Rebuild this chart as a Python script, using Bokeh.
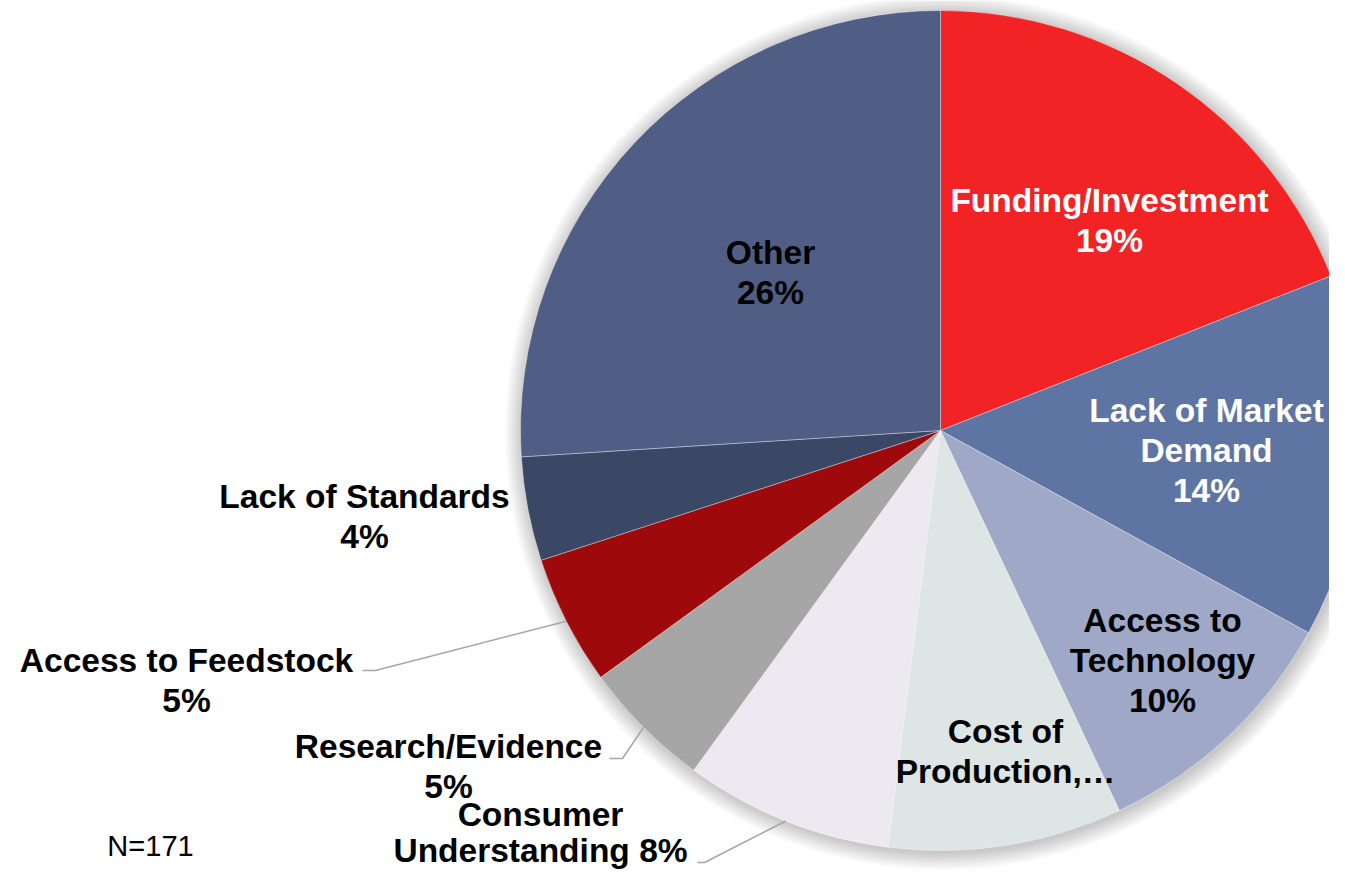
import math
from bokeh.plotting import figure
from bokeh.models import Range1d, ColumnDataSource
from bokeh.core.properties import value
from bokeh.embed import file_html
from bokeh.resources import INLINE

# ---- data ----
categories = ["Funding/Investment", "Lack of Market Demand", "Access to Technology",
              "Cost of Production,…", "Consumer Understanding", "Research/Evidence",
              "Access to Feedstock", "Lack of Standards", "Other"]
shares = [19, 14, 10, 9, 8, 5, 5, 4, 26]
pct_labels = ["19%", "14%", "10%", "", "8%", "5%", "5%", "4%", "26%"]
colors = ["#F22325", "#5E75A4", "#9FA8C7", "#DDE5E5", "#ECEAF0",
          "#A6A6A6", "#9E0A0B", "#3A4866", "#505E86"]
note = "N=171"

# ---- layout: data x = picture x, data y = -picture y ----
W, HT = 1329, 871
cx, cy, R = 940, -430, 420
FONT = value("Liberation Sans")
FS = "33.5px"

p = figure(width=W, height=HT, output_backend="svg", toolbar_location=None,
           x_range=Range1d(0, W), y_range=Range1d(-HT, 0),
           min_border=0, outline_line_color=None)
p.axis.visible = False
p.grid.visible = False
p.background_fill_color = "white"
p.border_fill_color = "white"

# soft shadow around the pie
for k in range(18, 0, -1):
    p.circle(x=[cx + 2], y=[cy - 2], radius=R + k, fill_color="black",
             fill_alpha=0.011, line_color=None)

total = sum(shares)
cum = [0]
for s in shares:
    cum.append(cum[-1] + s)
starts = [math.pi / 2 - 2 * math.pi * cum[i + 1] / total for i in range(len(shares))]
ends = [math.pi / 2 - 2 * math.pi * cum[i] / total for i in range(len(shares))]
mids = [2 * math.pi * (cum[i] + shares[i] / 2) / total for i in range(len(shares))]  # from top, clockwise

src = ColumnDataSource(dict(x=[cx] * len(shares), y=[cy] * len(shares),
                            start=starts, end=ends, color=colors, name=categories))
p.wedge(x="x", y="y", radius=R, start_angle="start", end_angle="end",
        direction="anticlock", fill_color="color", line_color="white",
        line_alpha=0.45, line_width=0.8, source=src)

# leader lines (text side points are layout; pie side from slice mid-angle)
leaders = {4: [(697, 862), (704, 862)], 5: [(609, 758), (622, 758)],
           6: [(362, 670), (375, 670)]}
for i, pts in leaders.items():
    ex = cx + R * math.sin(mids[i])
    ey = cy + R * math.cos(mids[i])
    xs = [pt[0] for pt in pts] + [ex]
    ys = [-pt[1] for pt in pts] + [ey]
    p.line(xs, ys, line_color="#A6A6A6", line_width=1.5)

# labels: (slice index, [lines], center x, first line picture y, line step, colour)
label_layout = [
    (0, ["Funding/Investment", pct_labels[0]], 1109, 200, 40, "white"),
    (1, ["Lack of Market", "Demand", pct_labels[1]], 1206, 410, 40, "white"),
    (2, ["Access to", "Technology", pct_labels[2]], 1162, 620, 40, "black"),
    (3, ["Cost of", "Production,…"], 1005, 731, 40, "black"),
    (4, ["Consumer", "Understanding " + pct_labels[4]], 540, 814, 36, "black"),
    (5, ["Research/Evidence", pct_labels[5]], 448, 746, 40, "black"),
    (6, ["Access to Feedstock", pct_labels[6]], 186, 660, 40, "black"),
    (7, ["Lack of Standards", pct_labels[7]], 364, 496, 40, "black"),
    (8, ["Other", pct_labels[8]], 770, 252, 40, "black"),
]
for idx, lines, lx, ly, step, col in label_layout:
    for j, t in enumerate(lines):
        p.text(x=[lx], y=[-(ly + step * j)], text=[t], text_font=FONT,
               text_font_style="bold", text_font_size=FS, text_color=col,
               text_align="center", text_baseline="middle")

p.text(x=[150], y=[-845], text=[note], text_font=FONT, text_font_size="29px",
       text_color="black", text_align="center", text_baseline="middle")

open("out.html", "w").write(file_html(p, INLINE))
